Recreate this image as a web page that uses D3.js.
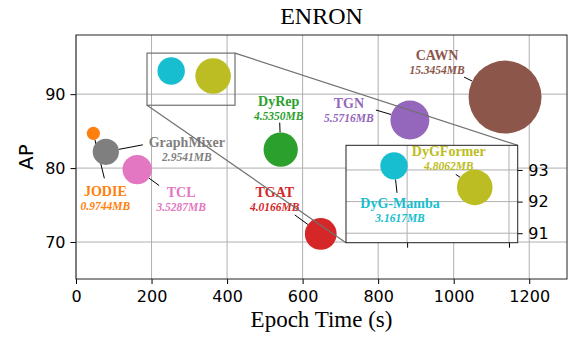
<!DOCTYPE html>
<html>
<head>
<meta charset="utf-8">
<script src="https://cdn.jsdelivr.net/npm/d3@7"></script>
<style>
  body { margin: 0; background: #fff; }
  svg { display: block; }
  .tick text { font-family: "DejaVu Sans", sans-serif; font-size: 16px; fill: #000; }
  .tick line { stroke: #000; stroke-width: 1; }
  .domain { display: none; }
</style>
</head>
<body>
<script>
// Data
var models = ["JODIE", "GraphMixer", "TCL", "DyG-Mamba", "DyGFormer", "DyRep", "TGAT", "TGN", "CAWN"];
var epochTime = [46, 79, 162, 252, 363, 542, 648, 884, 1136];
var ap = [84.7, 82.2, 79.8, 93.13, 92.45, 82.5, 71.1, 86.5, 89.6];
var memory = [0.9744, 2.9541, 3.5287, 3.1617, 4.8062, 4.5350, 4.0166, 5.5716, 15.3454];
var colors = ["#ff7f0e", "#7f7f7f", "#e377c2", "#17becf", "#bcbd22", "#2ca02c", "#d62728", "#9467bd", "#8c564b"];

var xTicks = [0, 200, 400, 600, 800, 1000, 1200];
var yTicks = [70, 80, 90];
var insetXTicks = [270, 410];
var insetYTicks = [91, 92, 93];

// label layout: [text dx, text dy (baseline), leader dx, leader dy] in px from bubble centre, and panel
var labelLayout = [
  [12, 63, 11, 45, "main"],
  [81, -5, 37, -7, "main"],
  [44, 27, 22, 16, "main"],
  [6, 42, 3, 27, "inset"],
  [-26, -31, -19, -13, "inset"],
  [-2, -44, -1, -27, "main"],
  [-46, -37, -26, -19, "main"],
  [-61, -12, -34, -10, "main"],
  [-68, -37, -41, -20, "main"]
];

var rows = models.map(function(m, i) {
  return { name: m, t: epochTime[i], ap: ap[i], mem: memory[i], color: colors[i], lay: labelLayout[i] };
});

var serif = "'Liberation Serif', 'Times New Roman', serif";

var W = 574, H = 339;
var margin = { top: 35, right: 7, bottom: 60, left: 76 },
    width = W - margin.left - margin.right,
    height = H - margin.top - margin.bottom;

var svg = d3.select("body").append("svg")
    .attr("width", W)
    .attr("height", H);

var g = svg.append("g")
    .attr("transform", "translate(" + margin.left + "," + margin.top + ")");

var x = d3.scaleLinear().domain([0, 1300]).range([0, width]);
var y = d3.scaleLinear().domain([65, 98]).range([height, 0]);
var r = d3.scalePow().exponent(0.62).domain([0, 15.3454]).range([0, 36.5]);

// grid
g.append("g").selectAll("line").data(xTicks).join("line")
    .attr("x1", function(d) { return x(d); }).attr("x2", function(d) { return x(d); })
    .attr("y1", 0).attr("y2", height)
    .attr("stroke", "#b0b0b0").attr("stroke-width", 1);
g.append("g").selectAll("line").data(yTicks).join("line")
    .attr("y1", function(d) { return y(d); }).attr("y2", function(d) { return y(d); })
    .attr("x1", 0).attr("x2", width)
    .attr("stroke", "#b0b0b0").attr("stroke-width", 1);

function drawLabels(layer, data, xs, ys, part) {
  if (part === "lines") {
    layer.selectAll("line.leader").data(data).join("line")
      .attr("class", "leader")
      .attr("x1", function(d) { return xs(d.t) + d.lay[2]; })
      .attr("y1", function(d) { return ys(d.ap) + d.lay[3]; })
      .attr("x2", function(d) {
        var dx = d.lay[2], dy = d.lay[3], L = Math.sqrt(dx * dx + dy * dy);
        return xs(d.t) + dx / L * r(d.mem);
      })
      .attr("y2", function(d) {
        var dx = d.lay[2], dy = d.lay[3], L = Math.sqrt(dx * dx + dy * dy);
        return ys(d.ap) + dy / L * r(d.mem);
      })
      .attr("stroke", "#000").attr("stroke-width", 1);
  } else {
    layer.selectAll("text.name").data(data).join("text")
      .attr("class", "name")
      .attr("x", function(d) { return xs(d.t) + d.lay[0]; })
      .attr("y", function(d) { return ys(d.ap) + d.lay[1]; })
      .attr("text-anchor", "middle")
      .attr("font-family", serif)
      .attr("font-weight", "bold")
      .attr("font-size", 14)
      .attr("fill", function(d) { return d.color; })
      .text(function(d) { return d.name; });
    layer.selectAll("text.mem").data(data).join("text")
      .attr("class", "mem")
      .attr("x", function(d) { return xs(d.t) + d.lay[0]; })
      .attr("y", function(d) { return ys(d.ap) + d.lay[1] + 14; })
      .attr("text-anchor", "middle")
      .attr("font-family", serif)
      .attr("font-weight", "bold")
      .attr("font-style", "italic")
      .attr("font-size", 11.5)
      .attr("fill", function(d) { return d.color; })
      .text(function(d) { return d.mem.toFixed(4) + "MB"; });
  }
}

var mainLabeled = rows.filter(function(d) { return d.lay[4] === "main"; });
var insetLabeled = rows.filter(function(d) { return d.lay[4] === "inset"; });

drawLabels(g.append("g"), mainLabeled, x, y, "lines");

g.append("g").selectAll("circle").data(rows).join("circle")
    .attr("cx", function(d) { return x(d.t); })
    .attr("cy", function(d) { return y(d.ap); })
    .attr("r", function(d) { return r(d.mem); })
    .attr("fill", function(d) { return d.color; });

drawLabels(g.append("g"), mainLabeled, x, y, "text");

// axes
g.append("g")
    .attr("transform", "translate(0," + height + ")")
    .call(d3.axisBottom(x).tickValues(xTicks).tickSize(5).tickPadding(6.5).tickFormat(d3.format("d")));
g.append("g")
    .call(d3.axisLeft(y).tickValues(yTicks).tickSize(5.5).tickPadding(5).tickFormat(d3.format("d")));

g.append("rect")
    .attr("width", width).attr("height", height)
    .attr("fill", "none").attr("stroke", "#222").attr("stroke-width", 1);

// zoom box and inset
var zoomX = [188, 421], zoomY = [88.5, 95.55];
var inset = { left: 346 - margin.left, top: 145.3 - margin.top, w: 171.7, h: 97.4 };
var ix = d3.scaleLinear().domain([186, 422]).range([0, inset.w]);
var iy = d3.scaleLinear().domain([90.7, 93.78]).range([inset.h, 0]);

g.append("rect")
    .attr("x", x(zoomX[0])).attr("y", y(zoomY[1]))
    .attr("width", x(zoomX[1]) - x(zoomX[0]))
    .attr("height", y(zoomY[0]) - y(zoomY[1]))
    .attr("fill", "none").attr("stroke", "#707070").attr("stroke-width", 1.2);
g.append("line")
    .attr("x1", x(zoomX[1])).attr("y1", y(zoomY[1]))
    .attr("x2", inset.left + inset.w).attr("y2", inset.top)
    .attr("stroke", "#707070").attr("stroke-width", 1.2);
g.append("line")
    .attr("x1", x(zoomX[0])).attr("y1", y(zoomY[0]))
    .attr("x2", inset.left).attr("y2", inset.top + inset.h)
    .attr("stroke", "#707070").attr("stroke-width", 1.2);

var ig = g.append("g")
    .attr("transform", "translate(" + inset.left + "," + inset.top + ")");

ig.append("rect").attr("width", inset.w).attr("height", inset.h).attr("fill", "#fff");

ig.append("defs").append("clipPath").attr("id", "iclip")
  .append("rect").attr("width", inset.w).attr("height", inset.h);

var ib = ig.append("g").attr("clip-path", "url(#iclip)");
ib.append("g").selectAll("line").data(insetXTicks).join("line")
    .attr("x1", function(d) { return ix(d); }).attr("x2", function(d) { return ix(d); })
    .attr("y1", 0).attr("y2", inset.h)
    .attr("stroke", "#b0b0b0").attr("stroke-width", 1);
ib.append("g").selectAll("line").data(insetYTicks).join("line")
    .attr("y1", function(d) { return iy(d); }).attr("y2", function(d) { return iy(d); })
    .attr("x1", 0).attr("x2", inset.w)
    .attr("stroke", "#b0b0b0").attr("stroke-width", 1);

var insetRows = rows.filter(function(d) { return d.t >= 186 && d.t <= 422 && d.ap >= 90.7; });

drawLabels(ib.append("g"), insetLabeled, ix, iy, "lines");
ib.append("g").selectAll("circle").data(insetRows).join("circle")
    .attr("cx", function(d) { return ix(d.t); })
    .attr("cy", function(d) { return iy(d.ap); })
    .attr("r", function(d) { return r(d.mem); })
    .attr("fill", function(d) { return d.color; });
drawLabels(ib.append("g"), insetLabeled, ix, iy, "text");

ig.append("g")
    .attr("transform", "translate(0," + inset.h + ")")
    .call(d3.axisBottom(ix).tickValues(insetXTicks).tickSize(5).tickFormat(""));
ig.append("g")
    .attr("transform", "translate(" + inset.w + ",0)")
    .call(d3.axisRight(iy).tickValues(insetYTicks).tickSize(5).tickPadding(5.5).tickFormat(d3.format("d")));

ig.append("rect")
    .attr("width", inset.w).attr("height", inset.h)
    .attr("fill", "none").attr("stroke", "#222").attr("stroke-width", 1);

// title and axis labels
svg.append("text")
    .attr("x", margin.left + width / 2).attr("y", 24)
    .attr("text-anchor", "middle")
    .attr("font-family", serif)
    .attr("font-size", 24)
    .text("ENRON");

svg.append("text")
    .attr("x", margin.left + width / 2).attr("y", 327)
    .attr("text-anchor", "middle")
    .attr("font-family", serif)
    .attr("font-size", 23)
    .text("Epoch Time (s)");

svg.append("text")
    .attr("transform", "translate(33," + (margin.top + height / 2) + ") rotate(-90)")
    .attr("text-anchor", "middle")
    .attr("font-family", "DejaVu Sans, sans-serif")
    .attr("font-size", 20)
    .text("AP");
</script>
</body>
</html>
